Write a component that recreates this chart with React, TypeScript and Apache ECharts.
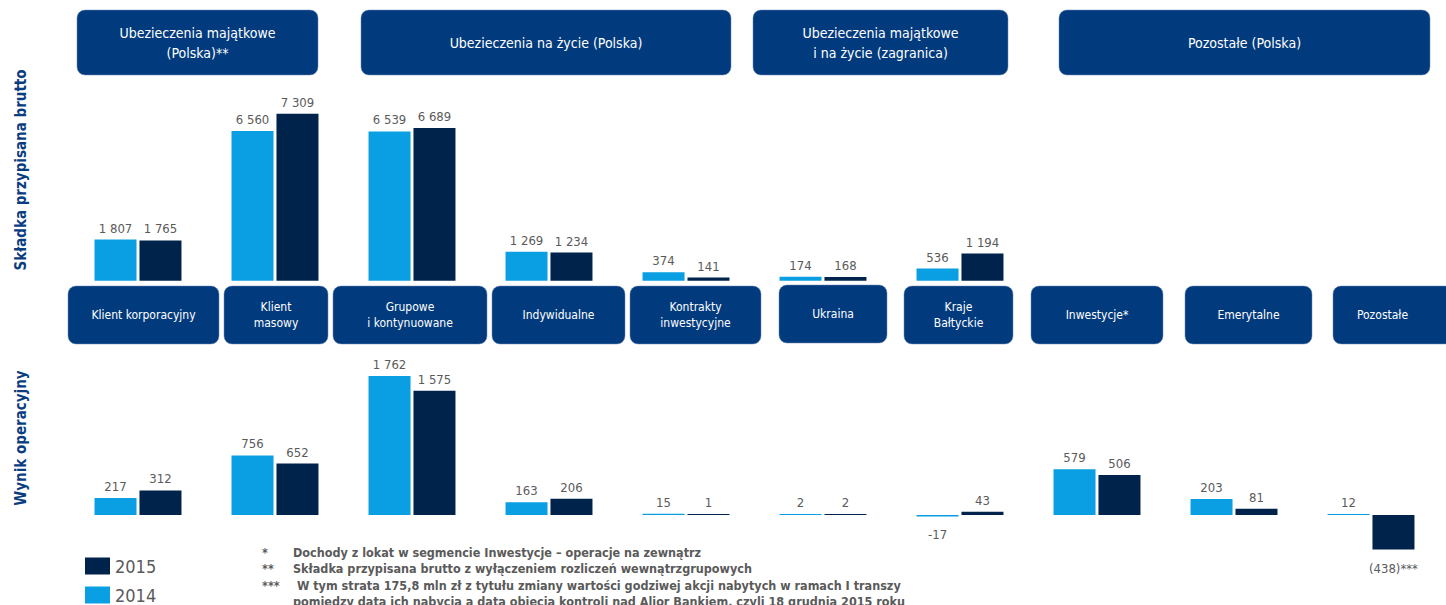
import React, { useEffect, useRef } from "react";
import * as echarts from "echarts";

const categories = [
  "Klient korporacyjny",
  "Klient\nmasowy",
  "Grupowe\ni kontynuowane",
  "Indywidualne",
  "Kontrakty\ninwestycyjne",
  "Ukraina",
  "Kraje\nBałtyckie",
  "Inwestycje*",
  "Emerytalne",
  "Pozostałe",
];
const seriesNames = ["2014", "2015"];
const premium2014 = [1807, 6560, 6539, 1269, 374, 174, 536, null, null, null];
const premium2015 = [1765, 7309, 6689, 1234, 141, 168, 1194, null, null, null];
const result2014 = [217, 756, 1762, 163, 15, 2, -17, 579, 203, 12];
const result2015 = [312, 652, 1575, 206, 1, 2, 43, 506, 81, -438];
const result2015Labels = [null, null, null, null, null, null, null, null, null, "(438)***"];
const segmentHeaders = [
  "Ubezieczenia majątkowe\n(Polska)**",
  "Ubezieczenia na życie (Polska)",
  "Ubezieczenia majątkowe\ni na życie (zagranica)",
  "Pozostałe (Polska)",
];
const panelTitles = ["Składka przypisana brutto", "Wynik operacyjny"];
const footnotes = [
  ["*", "Dochody z lokat w segmencie Inwestycje – operacje na zewnątrz"],
  ["**", "Składka przypisana brutto z wyłączeniem rozliczeń wewnątrzgrupowych"],
  ["***", " W tym strata 175,8 mln zł z tytułu zmiany wartości godziwej akcji nabytych w ramach I transzy"],
  ["", "pomiędzy datą ich nabycia a datą objęcia kontroli nad Alior Bankiem, czyli 18 grudnia 2015 roku"],
];

// layout (pixels)
const headerBoxes = [
  [77, 10, 241, 65],
  [361, 10, 370, 65],
  [753, 10, 255, 65],
  [1059, 10, 371, 65],
];
const catBoxes = [
  [68, 286, 151, 58],
  [224, 286, 104, 58],
  [333, 286, 154, 58],
  [492, 286, 133, 58],
  [630, 286, 131, 58],
  [779, 285, 108, 58],
  [904, 286, 109, 58],
  [1031, 286, 132, 58],
  [1185, 286, 127, 58],
  [1333, 286, 120, 58],
];

const FONT = "'DejaVu Sans Condensed', 'DejaVu Sans', sans-serif";
const BOX = "#023b7d";
const LIGHT = "#0a9ee2";
const DARK = "#00234b";
const GREY = "#5a5a5a";

const fmt = (v: number) =>
  (v < 0 ? "-" : "") + String(Math.abs(v)).replace(/\B(?=(\d{3})+(?!\d))/g, " ");

export default function App() {
  const ref = useRef<HTMLDivElement>(null);
  useEffect(() => {
    if (!ref.current) return;
    const chart = echarts.init(ref.current, undefined, { renderer: "svg" });

    const labelBase = {
      show: true,
      position: "top" as const,
      color: GREY,
      fontSize: 13,
      fontFamily: FONT,
      distance: 5,
    };
    const mkData = (arr: (number | null)[], overrides?: (string | null)[]) =>
      arr.map((v, i) => {
        if (v === null) return null;
        const o: any = { value: v };
        if (v < 0) {
          o.label = { position: "bottom", distance: 12 };
          if (overrides && overrides[i]) o.label.formatter = overrides[i];
        }
        return o;
      });

    const barCommon = {
      type: "bar" as const,
      barWidth: 42,
      barGap: "7%",
      barMinHeight: 1,
      label: { ...labelBase, formatter: (p: any) => fmt(p.value) },
    };

    const graphics: any[] = [];
    headerBoxes.forEach((b, i) => {
      graphics.push({
        type: "rect",
        shape: { x: b[0], y: b[1], width: b[2], height: b[3], r: 8 },
        style: { fill: BOX, stroke: "#6d8bb5", lineWidth: 0.5 },
      });
      graphics.push({
        type: "text",
        x: b[0] + b[2] / 2,
        y: b[1] + b[3] / 2,
        style: {
          text: segmentHeaders[i],
          fill: "#ffffff",
          font: `14px ${FONT}`,
          align: "center",
          verticalAlign: "middle",
          lineHeight: 20,
        },
      });
    });
    catBoxes.forEach((b, i) => {
      graphics.push({
        type: "rect",
        shape: { x: b[0], y: b[1], width: b[2], height: b[3], r: 8 },
        style: { fill: BOX, stroke: "#6d8bb5", lineWidth: 0.5 },
      });
      graphics.push({
        type: "text",
        x: b[0] + Math.min(b[2], 1446 - b[0] - 8) / 2 + (i === 9 ? -3 : 0),
        y: b[1] + b[3] / 2,
        style: {
          text: categories[i],
          fill: "#ffffff",
          font: `12px ${FONT}`,
          align: "center",
          verticalAlign: "middle",
          lineHeight: 16,
        },
      });
    });
    const titleY = [170, 438];
    panelTitles.forEach((t, i) => {
      graphics.push({
        type: "text",
        x: 21,
        y: titleY[i],
        rotation: Math.PI / 2,
        style: {
          text: t,
          fill: "#0a3d80",
          font: `bold 15px ${FONT}`,
          align: "center",
          verticalAlign: "middle",
        },
      });
    });
    footnotes.forEach((f, i) => {
      const y = 552 + i * 16.5;
      graphics.push({
        type: "text",
        x: 262,
        y,
        style: { text: f[0], fill: GREY, font: `bold 12.5px ${FONT}`, verticalAlign: "middle" },
      });
      graphics.push({
        type: "text",
        x: 293,
        y,
        style: { text: f[1], fill: GREY, font: `bold 12.5px ${FONT}`, verticalAlign: "middle" },
      });
    });

    chart.setOption({
      animation: false,
      legend: {
        data: [seriesNames[1], seriesNames[0]],
        orient: "vertical",
        left: 85,
        top: 557,
        padding: 0,
        itemWidth: 25,
        itemHeight: 17,
        itemGap: 11,
        icon: "rect",
        textStyle: { fontSize: 18, color: GREY, fontFamily: FONT },
      },
      grid: [
        { left: 69.5, width: 1370, top: 98, height: 182.8 },
        { left: 69.5, width: 1370, top: 357.2, height: 197.3 },
      ],
      xAxis: [
        { type: "category", data: categories, gridIndex: 0, show: false },
        { type: "category", data: categories, gridIndex: 1, show: false },
      ],
      yAxis: [
        { type: "value", gridIndex: 0, min: 0, max: 8000, show: false, splitLine: { show: false } },
        { type: "value", gridIndex: 1, min: -500, max: 2000, show: false, splitLine: { show: false } },
      ],
      series: [
        { ...barCommon, name: seriesNames[0], xAxisIndex: 0, yAxisIndex: 0, data: mkData(premium2014), itemStyle: { color: LIGHT } },
        { ...barCommon, name: seriesNames[1], xAxisIndex: 0, yAxisIndex: 0, data: mkData(premium2015), itemStyle: { color: DARK } },
        { ...barCommon, name: seriesNames[0], xAxisIndex: 1, yAxisIndex: 1, data: mkData(result2014), itemStyle: { color: LIGHT } },
        { ...barCommon, name: seriesNames[1], xAxisIndex: 1, yAxisIndex: 1, data: mkData(result2015, result2015Labels), itemStyle: { color: DARK } },
      ],
      graphic: graphics,
    });
    return () => chart.dispose();
  }, []);
  return (
    <div
      ref={ref}
      style={{ position: "fixed", left: 0, top: 0, width: 1446, height: 605, background: "#ffffff" }}
    />
  );
}
